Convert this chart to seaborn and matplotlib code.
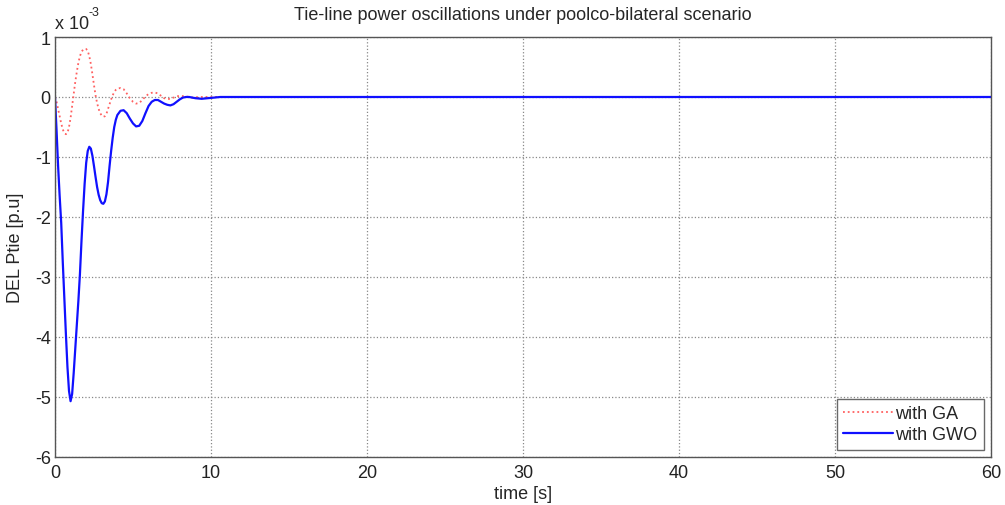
import matplotlib
matplotlib.use("Agg")
import matplotlib.pyplot as plt
import seaborn as sns
import pandas as pd

t_gwo = [0.0, 0.1, 0.2, 0.3, 0.4, 0.5, 0.6, 0.7, 0.8, 0.9, 1.0, 1.1, 1.2, 1.3, 1.4,
         1.5, 1.6, 1.7, 1.8, 1.9, 2.0, 2.1, 2.2, 2.3, 2.4, 2.5, 2.6, 2.7, 2.8, 2.9,
         3.0, 3.1, 3.2, 3.3, 3.4, 3.5, 3.6, 3.7, 3.8, 3.9, 4.0, 4.2, 4.4, 4.6, 4.8,
         5.0, 5.2, 5.4, 5.6, 5.8, 6.0, 6.2, 6.4, 6.6, 6.8, 7.0, 7.2, 7.4, 7.6, 7.8,
         8.0, 8.2, 8.4, 8.6, 8.8, 9.0, 9.4, 9.8, 10.2, 10.6, 12.0, 60.0]
p_gwo = [0.0, -0.55, -1.15, -1.65, -2.1, -2.75, -3.35, -3.95, -4.5, -4.9, -5.07, -4.95, -4.6, -4.2, -3.8,
         -3.4, -2.95, -2.4, -1.9, -1.45, -1.1, -0.9, -0.83, -0.86, -0.98, -1.15, -1.33, -1.5, -1.63, -1.72,
         -1.77, -1.78, -1.74, -1.62, -1.42, -1.15, -0.9, -0.68, -0.5, -0.38, -0.3, -0.23, -0.22, -0.27, -0.36,
         -0.44, -0.49, -0.48, -0.4, -0.27, -0.15, -0.08, -0.05, -0.05, -0.08, -0.11, -0.13, -0.14, -0.12, -0.08,
         -0.04, -0.01, 0.0, 0.0, -0.01, -0.02, -0.03, -0.02, -0.01, 0.0, 0.0, 0.0]

t_ga = [0.0, 0.1, 0.2, 0.3, 0.4, 0.5, 0.6, 0.7, 0.8, 0.9, 1.0, 1.1, 1.2, 1.3, 1.4,
        1.5, 1.6, 1.7, 1.8, 1.9, 2.0, 2.1, 2.2, 2.3, 2.4, 2.5, 2.6, 2.7, 2.8, 2.9,
        3.0, 3.1, 3.2, 3.3, 3.4, 3.5, 3.6, 3.7, 3.8, 3.9, 4.0, 4.2, 4.4, 4.6, 4.8,
        5.0, 5.2, 5.4, 5.6, 5.8, 6.0, 6.2, 6.4, 6.6, 6.8, 7.0, 7.2, 7.4, 7.6, 7.8,
        8.0, 8.4, 8.8, 9.2, 60.0]
p_ga = [0.0, -0.08, -0.2, -0.32, -0.44, -0.54, -0.6, -0.62, -0.6, -0.5, -0.35, -0.15, 0.05, 0.25, 0.42,
        0.57, 0.68, 0.75, 0.79, 0.8, 0.8, 0.77, 0.68, 0.55, 0.38, 0.2, 0.03, -0.1, -0.2, -0.27,
        -0.31, -0.33, -0.32, -0.28, -0.2, -0.12, -0.04, 0.03, 0.08, 0.12, 0.14, 0.15, 0.13, 0.06, -0.02,
        -0.08, -0.11, -0.1, -0.05, 0.01, 0.05, 0.07, 0.075, 0.06, 0.02, -0.02, -0.035, -0.03, -0.01, 0.01,
        0.02, 0.01, -0.01, 0.0, 0.0]

x_ticks = [0, 10, 20, 30, 40, 50, 60]
y_ticks = [1, 0, -1, -2, -3, -4, -5, -6]

sns.set_style("white")
plt.rcParams['font.family'] = ['Liberation Sans', 'DejaVu Sans']
plt.rcParams['axes.unicode_minus'] = False

fig = plt.figure(figsize=(10.05, 5.06), dpi=100)
ax = fig.add_axes([0.0547, 0.0949, 0.9313, 0.830])

df_ga = pd.DataFrame({"t": t_ga, "p": p_ga})
df_gwo = pd.DataFrame({"t": t_gwo, "p": p_gwo})
sns.lineplot(data=df_ga, x="t", y="p", ax=ax, color="#ff6060", linestyle=":", linewidth=1.3,
             label="with GA", sort=False)
sns.lineplot(data=df_gwo, x="t", y="p", ax=ax, color="#1010ff", linestyle="-", linewidth=1.6,
             label="with GWO", sort=False)

ax.set_xlim(0, 60)
ax.set_ylim(-6, 1)
ax.set_xticks(x_ticks)
ax.set_yticks(y_ticks)
ax.tick_params(direction="in", length=5, labelsize=13, colors="#222222")
ax.tick_params(axis="x", pad=5)
ax.tick_params(axis="y", pad=3)
ax.grid(True, linestyle=":", color="#888888", linewidth=0.9)
for s in ax.spines.values():
    s.set_color("#555555")
    s.set_linewidth(1.0)
    s.set_visible(True)

ax.set_xlabel("time [s]", fontsize=13, labelpad=3)
ax.set_ylabel("DEL Ptie [p.u]", fontsize=13, labelpad=8)
ax.set_title("Tie-line power oscillations under poolco-bilateral scenario", fontsize=13, pad=13)
ax.text(0.0, 1.012, "x 10", transform=ax.transAxes, fontsize=13, va="bottom", ha="left")
ax.text(0.0355, 1.045, "-3", transform=ax.transAxes, fontsize=9, va="bottom", ha="left")

leg = ax.legend(loc="lower right", fontsize=13, frameon=True, fancybox=False,
                edgecolor="#444444", handlelength=2.8, handletextpad=0.1,
                borderpad=0.35, labelspacing=0.25, borderaxespad=0.4)
leg.get_frame().set_linewidth(1.0)

fig.savefig("out.png", dpi=100)
